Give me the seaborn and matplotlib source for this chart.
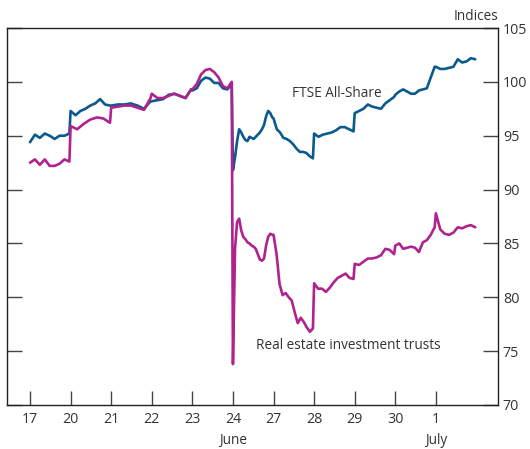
import numpy as np
import pandas as pd
import matplotlib
matplotlib.use("Agg")
import matplotlib.pyplot as plt
import matplotlib.transforms as mtransforms
import seaborn as sns

# trading days shown on the axis
day_labels = ["17", "20", "21", "22", "23", "24", "27", "28", "29", "30", "1"]

# intraday readings of the FTSE All-Share index, one list per trading day
ftse = [
    [94.4, 95.1, 94.8, 95.2, 95.0, 94.7, 95.0, 95.0, 95.2],
    [97.3, 96.9, 97.3, 97.5, 97.8, 98.0, 98.4, 97.9, 97.8],
    [97.8, 97.9, 97.9, 98.0, 97.8, 97.5, 98.2],
    [98.2, 98.3, 98.4, 98.8, 98.9, 98.7, 98.5, 99.3],
    [99.2, 99.4, 100.1, 100.4, 100.3, 99.9, 99.9, 99.4, 99.3, 99.8],
    [91.8, 93.0, 94.5, 95.6, 95.3, 94.9, 94.6, 94.5, 94.9, 94.8,
     94.7, 94.9, 95.1, 95.3, 95.6, 96.0, 96.8, 97.3, 97.1, 96.7],
    [96.6, 95.6, 95.3, 94.8, 94.7, 94.5, 94.2, 93.8, 93.5, 93.5, 93.4, 93.1, 92.9],
    [95.2, 94.9, 95.1, 95.2, 95.3, 95.5, 95.8, 95.8, 95.6, 95.4],
    [97.1, 97.3, 97.5, 97.9, 97.7, 97.6, 97.5, 98.0, 98.3, 98.6],
    [98.8, 99.1, 99.3, 99.1, 98.9, 98.9, 99.2, 99.3, 99.4, 100.4, 101.4],
    [101.4, 101.2, 101.2, 101.3, 101.4, 102.1, 101.8, 101.9, 102.2, 102.1],
]

# intraday readings of the real estate investment trusts index
reits = [
    [92.5, 92.8, 92.3, 92.8, 92.2, 92.2, 92.4, 92.8, 92.6],
    [95.9, 95.6, 96.1, 96.5, 96.7, 96.6, 96.2],
    [97.6, 97.7, 97.8, 97.8, 97.6, 97.4, 98.5],
    [98.9, 98.5, 98.5, 98.7, 98.9, 98.7, 98.5, 99.3],
    [99.3, 99.8, 100.7, 101.1, 101.2, 100.9, 100.4, 99.6, 99.4, 100.0],
    [73.8, 84.5, 87.0, 87.3, 86.2, 85.6, 85.4, 85.1, 85.0, 84.8,
     84.7, 84.5, 84.0, 83.5, 83.4, 83.6, 84.8, 85.6, 85.9, 85.8],
    [85.8, 84.0, 81.2, 80.2, 80.4, 80.0, 79.7, 78.6, 77.6, 78.1, 77.7, 77.2, 76.8, 77.1],
    [81.3, 80.8, 80.8, 80.5, 80.9, 81.4, 81.8, 82.0, 82.2, 81.8, 81.7],
    [83.1, 83.0, 83.3, 83.6, 83.6, 83.7, 83.9, 84.5, 84.4, 84.0],
    [84.8, 85.0, 84.5, 84.6, 84.7, 84.6, 84.2, 85.1, 85.3, 85.8, 86.5],
    [87.8, 86.3, 85.9, 85.8, 86.0, 86.5, 86.4, 86.6, 86.7, 86.5],
]

blue = "#0a5a8e"
magenta = "#b0228e"


def to_frame(days, name):
    # spread each day's readings across the trading session
    rows = []
    for d, vals in enumerate(days):
        n = len(vals)
        for i, v in enumerate(vals):
            rows.append({"x": d + 0.97 * i / (n - 1), "value": v, "series": name})
    return pd.DataFrame(rows)


df = pd.concat([to_frame(ftse, "FTSE All-Share"),
                to_frame(reits, "Real estate investment trusts")],
               ignore_index=True)

sns.set_style("white")
plt.rcParams["font.family"] = ["Open Sans", "DejaVu Sans"]
fs = 9.8

fig = plt.figure(figsize=(5.3, 4.49), dpi=100)
ax = fig.add_axes([0.0132, 0.098, 0.9264, 0.8396])

sns.lineplot(data=df, x="x", y="value", hue="series",
             palette={"FTSE All-Share": blue,
                      "Real estate investment trusts": magenta},
             estimator=None, sort=False, linewidth=1.9, legend=False, ax=ax)

ax.set_xlim(-0.567, 11.53)
ax.set_ylim(70, 105)
ax.set_xticks(range(len(day_labels)))
ax.set_xticklabels(day_labels)
ax.set_yticks(range(70, 106, 5))
ax.set_xlabel("")
ax.set_ylabel("")

text_col = "#333333"
ax.tick_params(axis="y", direction="in", left=True, right=True,
               labelleft=False, labelright=True, length=10.8, width=1,
               pad=3.5, colors="#444444", labelcolor=text_col, labelsize=fs + 0.5)
ax.tick_params(axis="x", direction="in", bottom=True, top=False,
               length=10, width=1, pad=5, colors="#444444",
               labelcolor=text_col, labelsize=fs + 0.5)
for sp in ax.spines.values():
    sp.set_visible(True)
    sp.set_color("#222222")
    sp.set_linewidth(1.0)

trans = mtransforms.blended_transform_factory(ax.transData, ax.transAxes)
ax.text(5, -0.093, "June", ha="center", va="center", color=text_col,
        fontsize=fs, transform=trans)
ax.text(10, -0.093, "July", ha="center", va="center", color=text_col,
        fontsize=fs, transform=trans)
ax.text(1.0, 1.021, "Indices", ha="right", va="baseline", color=text_col,
        fontsize=fs, transform=ax.transAxes)

ax.text(6.45, 98.9, "FTSE All-Share", ha="left", va="center",
        color=text_col, fontsize=fs)
ax.text(5.57, 75.55, "Real estate investment trusts", ha="left", va="center",
        color=text_col, fontsize=fs)

fig.savefig("out.png", dpi=100)
